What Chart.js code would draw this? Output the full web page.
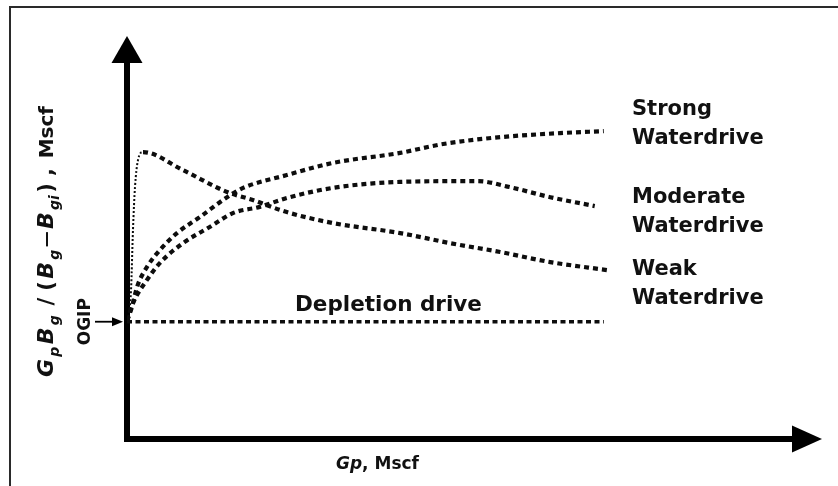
<!DOCTYPE html>
<html>
<head>
<meta charset="utf-8">
<script src="https://cdn.jsdelivr.net/npm/chart.js@4/dist/chart.umd.min.js"></script>
<style>
  html, body { margin: 0; padding: 0; background: #ffffff; }
  #wrap { width: 838px; height: 486px; }
</style>
</head>
<body>
<div id="wrap"><canvas id="c" width="838" height="486"></canvas></div>
<script>
// Schematic p/z-style plot: Gp*Bg/(Bg-Bgi) versus cumulative gas production Gp
// for different drive mechanisms (arbitrary units, 0-100 on both axes).

const depletionX = [0, 68.6];
const depletionY = [29.1, 29.1];

const strongX = [0, 0.72, 1.44, 2.88, 4.75, 7.19, 10.5, 14.4, 16.7, 23.0, 29.6, 39.3, 45.5, 53.7, 62.3, 68.6];
const strongY = [29.3, 32.8, 37.7, 42.7, 46.9, 51.1, 55.1, 60.0, 62.3, 65.5, 68.5, 71.0, 73.2, 74.9, 75.9, 76.4];

const moderateX = [0, 0.86, 2.88, 4.75, 8.06, 11.9, 15.3, 19.1, 23.0, 29.6, 39.3, 50.4, 55.1, 60.9, 67.3];
const moderateY = [29.3, 33.7, 39.5, 43.7, 48.6, 52.6, 56.1, 57.6, 59.8, 62.3, 63.8, 64.0, 62.5, 60.0, 57.8];

// first points: thin early rise up to the peak, then the thick declining branch
const weakX = [0.14, 0.58, 0.86, 1.15, 1.58, 2.30, 8.06, 14.4, 18.1, 23.0, 29.6, 39.3, 46.5, 53.7, 60.9, 69.1];
const weakY = [29.3, 37.0, 51.9, 62.5, 69.2, 71.2, 66.7, 61.3, 59.3, 56.3, 53.6, 51.1, 48.6, 46.4, 43.9, 41.9];
const weakPeakIndex = 5;

const curveLabels = [
  { lines: ['Strong', 'Waterdrive'], x: 632, y: 115 },
  { lines: ['Moderate', 'Waterdrive'], x: 632, y: 203 },
  { lines: ['Weak', 'Waterdrive'], x: 632, y: 275 }
];
const depletionLabel = 'Depletion drive';
const ogipLabel = 'OGIP';

const pts = (xs, ys) => xs.map((v, i) => ({ x: v, y: ys[i] }));

const FONT = '"DejaVu Sans", "Liberation Sans", Arial, sans-serif';

const lineBase = {
  borderColor: '#0d0d0d',
  pointRadius: 0,
  fill: false,
  borderCapStyle: 'butt',
  cubicInterpolationMode: 'monotone'
};

const decor = {
  id: 'decor',
  beforeDatasetsDraw(chart) {
    const { ctx, chartArea: a, scales: { x, y } } = chart;
    const x0 = x.getPixelForValue(0);
    const y0 = y.getPixelForValue(0);
    ctx.save();
    // outer frame (top and left)
    ctx.strokeStyle = '#2a2a2a';
    ctx.lineWidth = 2;
    ctx.beginPath();
    ctx.moveTo(10, 486); ctx.lineTo(10, 7); ctx.lineTo(838, 7);
    ctx.stroke();

    // axes
    ctx.strokeStyle = '#000';
    ctx.fillStyle = '#000';
    ctx.lineWidth = 6;
    ctx.lineJoin = 'miter';
    ctx.beginPath();
    ctx.moveTo(x0, a.top + 26);
    ctx.lineTo(x0, y0);
    ctx.lineTo(a.right - 29, y0);
    ctx.stroke();
    ctx.beginPath();
    ctx.moveTo(x0, a.top);
    ctx.lineTo(x0 - 15.5, a.top + 27);
    ctx.lineTo(x0 + 15.5, a.top + 27);
    ctx.closePath();
    ctx.fill();
    ctx.beginPath();
    ctx.moveTo(a.right, y0);
    ctx.lineTo(a.right - 30, y0 - 13.5);
    ctx.lineTo(a.right - 30, y0 + 13.5);
    ctx.closePath();
    ctx.fill();

    // OGIP pointer
    const yo = y.getPixelForValue(depletionY[0]);
    ctx.lineWidth = 1.8;
    ctx.beginPath();
    ctx.moveTo(95, yo); ctx.lineTo(113, yo);
    ctx.stroke();
    ctx.beginPath();
    ctx.moveTo(x0 - 4, yo);
    ctx.lineTo(x0 - 15, yo - 4.5);
    ctx.lineTo(x0 - 15, yo + 4.5);
    ctx.closePath();
    ctx.fill();
    ctx.restore();
  },
  afterDatasetsDraw(chart) {
    const { ctx, scales: { y } } = chart;
    ctx.save();
    ctx.fillStyle = '#111';
    ctx.textBaseline = 'alphabetic';
    ctx.textAlign = 'left';

    // curve labels
    ctx.font = 'bold 21px ' + FONT;
    curveLabels.forEach(l => {
      l.lines.forEach((t, i) => ctx.fillText(t, l.x, l.y + i * 29));
    });
    ctx.font = 'bold 21.5px ' + FONT;
    ctx.fillText(depletionLabel, 295, 311);

    // OGIP (rotated)
    ctx.save();
    ctx.translate(90, y.getPixelForValue(depletionY[0]));
    ctx.rotate(-Math.PI / 2);
    ctx.font = 'bold 17px ' + FONT;
    ctx.textAlign = 'center';
    ctx.fillText(ogipLabel, 0, 0);
    ctx.restore();

    // y-axis title with subscripts (rotated, read bottom to top)
    const big = 'bold italic 22px ' + FONT;
    const sub = 'bold italic 14px ' + FONT;
    const up = 'bold 21px ' + FONT;
    const pieces = [
      ['G', big, 0], ['p', sub, 6], ['B', big, 0], ['g', sub, 6],
      [' / (', up, 0], ['B', big, 0], ['g', sub, 6],
      ['\u2014', 'bold 16px ' + FONT, -2], ['B', big, 0], ['gi', sub, 6],
      [') , ', up, 0], ['Mscf', 'bold 20px ' + FONT, 0]
    ];
    ctx.save();
    ctx.translate(53, 377);
    ctx.rotate(-Math.PI / 2);
    let d = 0;
    pieces.forEach(([t, f, dy]) => {
      ctx.font = f;
      ctx.fillText(t, d, dy);
      d += ctx.measureText(t).width + 2.3;
    });
    ctx.restore();

    // x-axis title
    ctx.font = 'bold italic 17px ' + FONT;
    let tx = 336;
    ctx.fillText('Gp', tx, 469);
    tx += ctx.measureText('Gp').width;
    ctx.font = 'bold 17px ' + FONT;
    ctx.fillText(', Mscf', tx, 469);
    ctx.restore();
  }
};

new Chart(document.getElementById('c'), {
  type: 'line',
  data: {
    datasets: [
      Object.assign({}, lineBase, {
        label: 'Depletion drive',
        data: pts(depletionX, depletionY),
        borderWidth: 3.5,
        borderDash: [5, 3.5]
      }),
      Object.assign({}, lineBase, {
        label: 'Strong Waterdrive',
        data: pts(strongX, strongY),
        borderWidth: 4.2,
        borderDash: [5, 4]
      }),
      Object.assign({}, lineBase, {
        label: 'Moderate Waterdrive',
        data: pts(moderateX, moderateY),
        borderWidth: 4.2,
        borderDash: [5, 4]
      }),
      Object.assign({}, lineBase, {
        label: 'Weak Waterdrive',
        data: pts(weakX, weakY),
        borderWidth: 4.2,
        borderDash: [5, 4],
        segment: {
          borderWidth: c => (c.p1DataIndex <= weakPeakIndex ? 2 : 4.2),
          borderDash: c => (c.p1DataIndex <= weakPeakIndex ? [2, 2] : [5, 4])
        }
      })
    ]
  },
  options: {
    responsive: false,
    animation: false,
    devicePixelRatio: 1,
    layout: { padding: { left: 127, right: 16, top: 36, bottom: 47 } },
    scales: {
      x: { type: 'linear', min: 0, max: 100, display: false },
      y: { type: 'linear', min: 0, max: 100, display: false }
    },
    plugins: {
      legend: { display: false },
      tooltip: { enabled: false }
    }
  },
  plugins: [decor]
});
</script>
</body>
</html>
